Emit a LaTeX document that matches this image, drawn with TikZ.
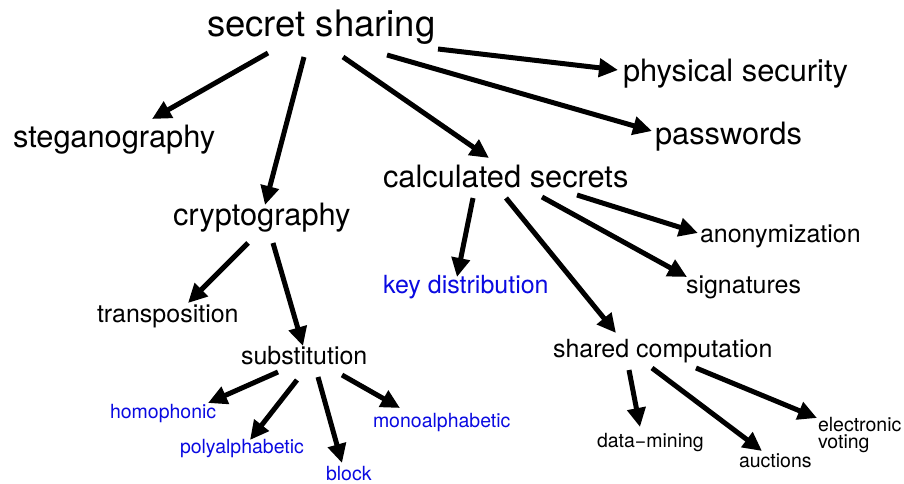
\documentclass[tikz,border=0pt]{standalone}
\usepackage{fontspec}
\setmainfont{TeX Gyre Heros}
\usetikzlibrary{arrows.meta}
\definecolor{lblue}{RGB}{10,10,225}
\tikzset{
  lbl/.style={anchor=base west, inner sep=0pt, outer sep=0pt},
  big/.style={lbl, font=\fontsize{36.5}{43}\selectfont},
  lg/.style={lbl, font=\fontsize{30.8}{36}\selectfont},
  md/.style={lbl, font=\fontsize{25}{30}\selectfont},
  sm/.style={lbl, font=\fontsize{19.5}{16.8}\selectfont},
  bl/.style={text=lblue},
  arr/.style={line width=5pt, -{Triangle[length=19pt,width=18pt]}, shorten >=0pt}
}
\begin{document}
\begin{tikzpicture}[x=1pt,y=1pt]
\useasboundingbox (0,0) rectangle (904,483);
% nodes
\node[big] (ss) at (207,446) {secret sharing};
\node[lg] (steg) at (13,336) {steganography};
\node[lg] (crypt) at (173,258) {cryptography};
\node[lg] (phys) at (623,401) {physical security};
\node[lg] (pass) at (655,339) {passwords};
\node[lg] (calc) at (383,296) {calculated secrets};
\node[md] (anon) at (700,241) {anonymization};
\node[md,bl] (key) at (383,190) {key distribution};
\node[md] (sig) at (686,190) {signatures};
\node[md] (trans) at (97,161) {transposition};
\node[md] (subst) at (241,119) {substitution};
\node[md] (shared) at (553,126) {shared computation};
\node[sm,bl] (homo) at (110,65) {homophonic};
\node[sm,bl] (poly) at (180,30) {polyalphabetic};
\node[sm,bl] (block) at (326,3) {block};
\node[sm,bl] (mono) at (373,56) {monoalphabetic};
\node[sm] (data) at (597,36) {data−mining};
\node[sm] (auct) at (739,16) {auctions};
\node[sm, anchor=north west, align=left] (elec) at (818,66) {electronic\\voting};
% connectors
\draw[arr] ([shift={(61,-16)}]ss.base west) -- ([shift={(139,28)}]steg.base west);
\draw[arr] ([shift={(97,-20)}]ss.base west) -- ([shift={(92,20)}]crypt.base west);
\draw[arr] ([shift={(136,-20)}]ss.base west) -- ([shift={(106,29)}]calc.base west);
\draw[arr] ([shift={(231,-12)}]ss.base west) -- ([shift={(-5,12)}]phys.base west);
\draw[arr] ([shift={(180,-18)}]ss.base west) -- ([shift={(-3,13)}]pass.base west);
\draw[arr] ([shift={(90,-11)}]calc.base west) -- ([shift={(74,16)}]key.base west);
\draw[arr] ([shift={(123,-11)}]calc.base west) -- ([shift={(63,24)}]shared.base west);
\draw[arr] ([shift={(159,-10)}]calc.base west) -- ([shift={(1,16)}]sig.base west);
\draw[arr] ([shift={(194,-8)}]calc.base west) -- ([shift={(-2,9)}]anon.base west);
\draw[arr] ([shift={(75,-18)}]crypt.base west) -- ([shift={(91,19)}]trans.base west);
\draw[arr] ([shift={(100,-18)}]crypt.base west) -- ([shift={(62,18)}]subst.base west);
\draw[arr] ([shift={(37,-8)}]subst.base west) -- ([shift={(98,15)}]homo.base west);
\draw[arr] ([shift={(56,-16)}]subst.base west) -- ([shift={(70,13)}]poly.base west);
\draw[arr] ([shift={(77,-13)}]subst.base west) -- ([shift={(16,17)}]block.base west);
\draw[arr] ([shift={(101,-11)}]subst.base west) -- ([shift={(27,19)}]mono.base west);
\draw[arr] ([shift={(76,-13)}]shared.base west) -- ([shift={(43,20)}]data.base west);
\draw[arr] ([shift={(99,-11)}]shared.base west) -- ([shift={(23,16)}]auct.base west);
\draw[arr] ([shift={(143,-11)}]shared.base west) -- ([shift={(-1,-1)}]elec.north west);
\end{tikzpicture}
\end{document}
